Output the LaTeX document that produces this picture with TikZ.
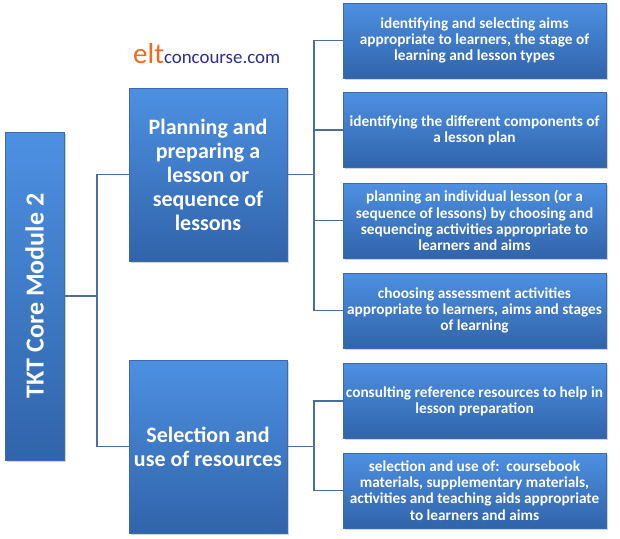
\documentclass[tikz,border=0pt]{standalone}
\usepackage{fontspec}
\setmainfont{Carlito}
\usetikzlibrary{shadows}

\definecolor{boxtop}{HTML}{4D90E2}
\definecolor{boxbot}{HTML}{3064AA}
\definecolor{boxline}{HTML}{3A6AA8}
\definecolor{linkcol}{HTML}{4A6E9E}
\definecolor{eltorange}{HTML}{F26A1B}
\definecolor{eltblue}{HTML}{2B2E91}

\tikzset{
  topicbox/.style={draw=boxline, line width=0.8pt, top color=boxtop, bottom color=boxbot,
    text=white, font=\bfseries, align=center, inner sep=1pt,
    drop shadow={opacity=0.35, shadow xshift=1.5pt, shadow yshift=-1.5pt}},
  mainbox/.style={topicbox, minimum width=158pt, minimum height=173pt,
    font=\bfseries\fontsize{22}{24}\selectfont},
  subbox/.style={topicbox, minimum width=263pt, minimum height=75pt,
    font=\bfseries\fontsize{15.3}{16.2}\selectfont},
  link/.style={draw=linkcol, line width=1.5pt}
}

\begin{document}
\begin{tikzpicture}[x=1pt, y=-1pt]

    \useasboundingbox (0,0) rectangle (620,538);

    % logo
    \node[anchor=base west, inner sep=0pt] (logo) at (133,63)
      {\color{eltorange}\fontsize{29}{29}\selectfont elt\color{eltblue}\fontsize{18.9}{19}\selectfont concourse.com};

    \node[topicbox, rotate=90, minimum width=328pt, minimum height=59pt,
      font=\bfseries\fontsize{26}{28}\selectfont] (root) at (34.5,296) {TKT Core Module 2};

    \node[mainbox] (plan) at (208,174.5) {Planning and\\preparing a\\lesson or\\sequence of\\lessons};
    \node[mainbox] (res) at (208,446.5) {Selection and\\use of resources};

    \node[subbox] (a1) at (474.5,40.5) {identifying and selecting aims\\appropriate to learners, the stage of\\learning and lesson types};
    \node[subbox] (a2) at (474.5,130) {identifying the different components of\\a lesson plan};
    \node[subbox] (a3) at (474.5,220.5) {planning an individual lesson (or a\\sequence of lessons) by choosing and\\sequencing activities appropriate to\\learners and aims};
    \node[subbox] (a4) at (474.5,310.5) {choosing assessment activities\\appropriate to learners, aims and stages\\of learning};

    \node[subbox] (b1) at (474.5,401) {consulting reference resources to help in\\lesson preparation};
    \node[subbox] (b2) at (474.5,490.5) {selection and use of:~~coursebook\\materials, supplementary materials,\\activities and teaching aids appropriate\\to learners and aims};

    \coordinate (j0) at (97,296);
    \coordinate (j1) at (314,174.5);
    \coordinate (j2) at (314,446.5);

    \draw[link] (root) -- (j0);
    \draw[link] (j0) |- (plan);
    \draw[link] (j0) |- (res);

    \draw[link] (plan) -- (j1);
    \foreach \n in {a1,a2,a3,a4}
      \draw[link] (j1) |- (\n);

    \draw[link] (res) -- (j2);
    \foreach \n in {b1,b2}
      \draw[link] (j2) |- (\n);

\end{tikzpicture}
\end{document}
